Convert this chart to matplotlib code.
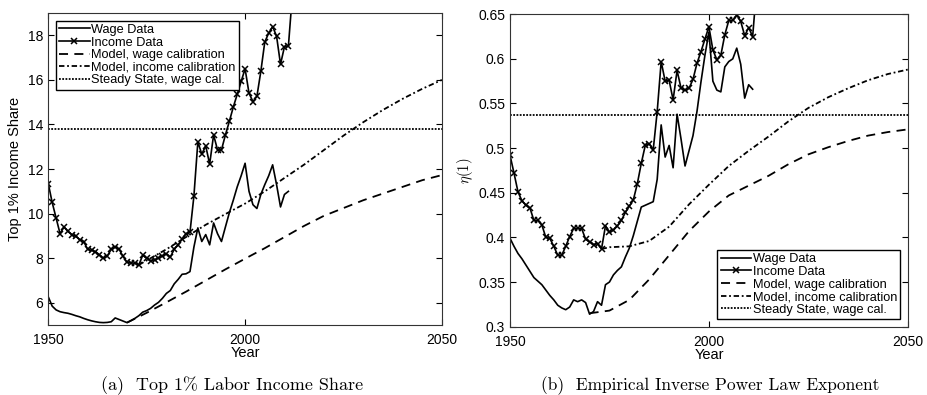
import numpy as np
import matplotlib
matplotlib.use('Agg')
import matplotlib.pyplot as plt

plt.rcParams['font.family'] = ['Liberation Sans', 'DejaVu Sans']
plt.rcParams['mathtext.fontset'] = 'cm'

# data years
years_income = list(range(1950, 2013))
years_wage = list(range(1950, 2012))
years_wage_model = [1970, 1975, 1980, 1985, 1990, 1995, 2000, 2005, 2010,
                    2015, 2020, 2025, 2030, 2035, 2040, 2045, 2050]
years_income_model = [1973, 1975, 1980, 1985, 1990, 1995, 2000, 2005, 2010,
                      2015, 2020, 2025, 2030, 2035, 2040, 2045, 2050]

# (a) top 1% income share
share_wage = [6.27, 5.85, 5.68, 5.6, 5.56, 5.53, 5.48, 5.42, 5.37, 5.3,
              5.24, 5.19, 5.15, 5.12, 5.11, 5.12, 5.15, 5.32, 5.25, 5.18,
              5.11, 5.2, 5.3, 5.42, 5.58, 5.65, 5.75, 5.9, 6.02, 6.2,
              6.42, 6.55, 6.85, 7.05, 7.28, 7.3, 7.4, 8.5, 9.36, 8.75,
              9.06, 8.6, 9.58, 9.1, 8.75, 9.4, 10.04, 10.6, 11.2, 11.7,
              12.26, 11.0, 10.4, 10.23, 10.86, 11.3, 11.7, 12.19, 11.3, 10.3,
              10.86, 11.0]
share_income = [11.35, 10.5, 9.8, 9.1, 9.4, 9.2, 9.06, 8.98, 8.83, 8.75,
                8.4, 8.35, 8.3, 8.15, 8.0, 8.1, 8.4, 8.5, 8.4, 8.08,
                7.82, 7.8, 7.77, 7.7, 8.13, 8.0, 7.88, 7.93, 8.0, 8.1,
                8.2, 8.05, 8.4, 8.6, 8.86, 9.1, 9.16, 10.79, 13.22, 12.67,
                13.04, 12.22, 13.53, 12.86, 12.86, 13.53, 14.14, 14.78, 15.35, 15.93,
                16.5, 15.4, 15.03, 15.26, 16.38, 17.7, 18.1, 18.39, 17.96, 16.7,
                17.49, 17.51, 19.8]
share_model_wage = [5.11, 5.55, 6.02, 6.5, 7.0, 7.5, 7.98, 8.45, 8.95,
                    9.45, 9.9, 10.25, 10.6, 10.9, 11.2, 11.5, 11.73]
share_model_income = [7.7, 7.9, 8.4, 8.95, 9.5, 9.98, 10.45, 11.0, 11.6,
                      12.2, 12.85, 13.5, 14.1, 14.65, 15.15, 15.6, 16.0]
share_steady = 13.8

# (b) inverse power law exponent
eta_wage = [0.399, 0.39, 0.382, 0.376, 0.369, 0.362, 0.355, 0.351, 0.347, 0.341,
            0.335, 0.33, 0.324, 0.321, 0.319, 0.322, 0.33, 0.328, 0.33, 0.327,
            0.314, 0.317, 0.328, 0.324, 0.347, 0.35, 0.358, 0.363, 0.367, 0.378,
            0.388, 0.402, 0.418, 0.434, 0.436, 0.438, 0.44, 0.465, 0.526, 0.49,
            0.503, 0.478, 0.538, 0.51, 0.48, 0.497, 0.514, 0.541, 0.574, 0.604,
            0.63, 0.575, 0.565, 0.563, 0.591, 0.597, 0.6, 0.612, 0.594, 0.556,
            0.571, 0.566]
eta_income = [0.492, 0.472, 0.451, 0.441, 0.436, 0.433, 0.419, 0.419, 0.414, 0.40,
              0.399, 0.39, 0.38, 0.38, 0.39, 0.401, 0.41, 0.41, 0.41, 0.398,
              0.395, 0.392, 0.393, 0.387, 0.413, 0.406, 0.408, 0.413, 0.419, 0.428,
              0.435, 0.442, 0.46, 0.483, 0.503, 0.505, 0.498, 0.541, 0.597, 0.575,
              0.576, 0.554, 0.587, 0.567, 0.565, 0.567, 0.577, 0.595, 0.608, 0.622,
              0.636, 0.610, 0.599, 0.604, 0.627, 0.643, 0.643, 0.649, 0.642, 0.626,
              0.635, 0.625, 0.68]
eta_model_wage = [0.315, 0.318, 0.33, 0.353, 0.38, 0.407, 0.429, 0.447, 0.458,
                  0.469, 0.482, 0.493, 0.501, 0.508, 0.514, 0.518, 0.521]
eta_model_income = [0.387, 0.389, 0.39, 0.396, 0.412, 0.437, 0.459, 0.48, 0.497,
                    0.513, 0.53, 0.545, 0.557, 0.567, 0.576, 0.583, 0.588]
eta_steady = 0.537

labels = ['Wage Data', 'Income Data', 'Model, wage calibration',
          'Model, income calibration', 'Steady State, wage cal.']

fig = plt.figure(figsize=(9.28, 3.95), dpi=100)
ax1 = fig.add_axes([0.052, 0.177, 0.4242, 0.79])
ax2 = fig.add_axes([0.5496, 0.173, 0.4286, 0.791])


def draw(ax, wage, income, mwage, mincome, steady):
    ax.plot(years_wage, wage, color='black', lw=1.2, label=labels[0])
    ax.plot(years_income, income, color='black', lw=1.2, marker='x', ms=4.5,
            mew=1.1, label=labels[1])
    ax.plot(years_wage_model, mwage, color='black', lw=1.3,
            linestyle=(0, (5, 3.5)), label=labels[2])
    ax.plot(years_income_model, mincome, color='black', lw=1.3,
            linestyle=(0, (3, 1.5, 1, 1.5)), label=labels[3])
    ax.plot([1950, 2050], [steady, steady], color='black', lw=1.3,
            linestyle=(0, (1, 0.8)), label=labels[4])
    ax.set_xlim(1950, 2050)
    ax.set_xticks([1950, 2000, 2050])
    ax.set_xlabel('Year', fontsize=10.5, labelpad=-1)
    ax.tick_params(direction='in', top=True, right=True, labelsize=10, length=4)
    ax.tick_params(axis='x', pad=6)
    for s in ax.spines.values():
        s.set_linewidth(0.8)
        s.set_color('#333333')


draw(ax1, share_wage, share_income, share_model_wage, share_model_income, share_steady)
ax1.set_ylim(5, 19)
ax1.set_yticks([6, 8, 10, 12, 14, 16, 18])
ax1.set_ylabel('Top 1% Income Share', fontsize=10.5, labelpad=4)
ax1.legend(loc='upper left', fontsize=9.2, handlelength=2.4, handletextpad=0.1,
           labelspacing=0.05, borderpad=0.25, borderaxespad=0.6, fancybox=False,
           framealpha=1, edgecolor='black')

draw(ax2, eta_wage, eta_income, eta_model_wage, eta_model_income, eta_steady)
ax2.set_ylim(0.3, 0.65)
ax2.set_yticks([0.3, 0.35, 0.4, 0.45, 0.5, 0.55, 0.6, 0.65])
ax2.set_yticklabels(['0.3', '0.35', '0.4', '0.45', '0.5', '0.55', '0.6', '0.65'])
ax2.set_ylabel(r'$\eta(1)$', fontsize=10.5, labelpad=2)
ax2.legend(loc='lower right', fontsize=9.2, handlelength=2.4, handletextpad=0.1,
           labelspacing=0.05, borderpad=0.25, borderaxespad=0.6, fancybox=False,
           framealpha=1, edgecolor='black')

fig.text(0.25, 0.012, '(a)  Top 1% Labor Income Share', ha='center',
         fontsize=13, family=['cmr10', 'DejaVu Serif'])
fig.text(0.765, 0.012, '(b)  Empirical Inverse Power Law Exponent', ha='center',
         fontsize=12.5, family=['cmr10', 'DejaVu Serif'])

fig.savefig('out.png', dpi=100)
